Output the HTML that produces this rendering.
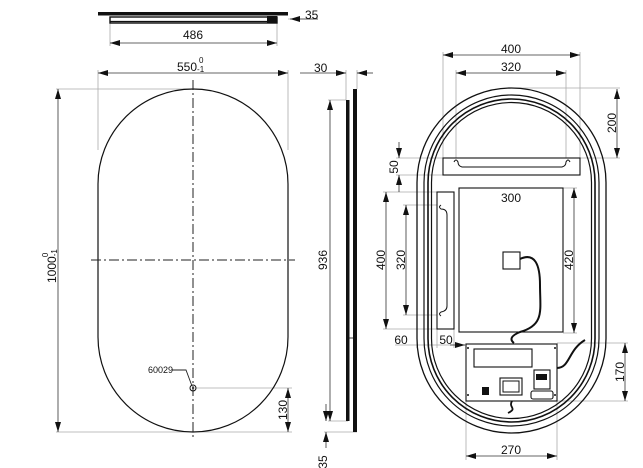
<!DOCTYPE html>
<html><head><meta charset="utf-8"><style>
html,body{margin:0;padding:0;background:#fff}
svg{display:block}
text{font-family:"Liberation Sans",sans-serif;fill:#111}
</style></head><body>
<svg width="643" height="468" viewBox="0 0 643 468" xmlns="http://www.w3.org/2000/svg">
<defs>
<marker id="a" viewBox="0 0 10 6" refX="10" refY="3" markerWidth="10" markerHeight="6" orient="auto-start-reverse" markerUnits="userSpaceOnUse"><path d="M0,0L10,3L0,6z" fill="#111"/></marker>
</defs>
<g stroke="#aaa" stroke-width="0.8" fill="none">
<line x1="110" y1="22" x2="110" y2="46"/><line x1="277" y1="22" x2="277" y2="46"/>
<line x1="288" y1="19" x2="318" y2="19"/>
<line x1="98" y1="70" x2="98" y2="150"/><line x1="288" y1="70" x2="288" y2="150"/>
<line x1="56" y1="89" x2="193" y2="89"/><line x1="56" y1="432" x2="193" y2="432"/>
<line x1="193" y1="388" x2="292" y2="388"/><line x1="193" y1="432" x2="292" y2="432"/>
<line x1="346" y1="70" x2="346" y2="100"/><line x1="357" y1="70" x2="357" y2="89"/>
<line x1="328" y1="100" x2="346" y2="100"/><line x1="328" y1="421" x2="348" y2="421"/><line x1="324" y1="432" x2="357" y2="432"/>
<line x1="443" y1="52" x2="443" y2="158"/><line x1="580" y1="52" x2="580" y2="158"/>
<line x1="456" y1="70" x2="456" y2="160"/><line x1="566" y1="70" x2="566" y2="160"/>
<line x1="510" y1="88" x2="620" y2="88"/><line x1="580" y1="158" x2="620" y2="158"/>
<line x1="396" y1="158" x2="443" y2="158"/><line x1="396" y1="175" x2="443" y2="175"/>
<line x1="383" y1="192" x2="437" y2="192"/><line x1="383" y1="329" x2="437" y2="329"/>
<line x1="403" y1="205" x2="442" y2="205"/><line x1="403" y1="315" x2="442" y2="315"/>
<line x1="563" y1="188" x2="577" y2="188"/><line x1="563" y1="333" x2="577" y2="333"/>
<line x1="557" y1="343" x2="628" y2="343"/><line x1="557" y1="401" x2="628" y2="401"/>
<line x1="466" y1="401" x2="466" y2="460"/><line x1="557" y1="401" x2="557" y2="460"/>
<line x1="395" y1="345" x2="466" y2="345"/>
<line x1="417" y1="335" x2="417" y2="348"/><line x1="437" y1="329" x2="437" y2="348"/><line x1="454" y1="329" x2="454" y2="348"/>
</g>
<g stroke="#333" stroke-width="0.8" fill="none">
<line x1="110" y1="43" x2="277" y2="43" marker-start="url(#a)" marker-end="url(#a)"/>
<line x1="318" y1="19" x2="290" y2="19" marker-end="url(#a)"/>
<line x1="98" y1="73" x2="288" y2="73" marker-start="url(#a)" marker-end="url(#a)"/>
<line x1="58" y1="89" x2="58" y2="432" marker-start="url(#a)" marker-end="url(#a)"/>
<line x1="288" y1="388" x2="288" y2="432" marker-start="url(#a)" marker-end="url(#a)"/>
<line x1="300" y1="73" x2="346" y2="73" marker-end="url(#a)"/><line x1="373" y1="73" x2="357" y2="73" marker-end="url(#a)"/>
<line x1="330" y1="100" x2="330" y2="421" marker-start="url(#a)" marker-end="url(#a)"/>
<line x1="326" y1="404" x2="326" y2="421" marker-end="url(#a)"/><line x1="326" y1="448" x2="326" y2="432" marker-end="url(#a)"/>
<line x1="443" y1="55" x2="580" y2="55" marker-start="url(#a)" marker-end="url(#a)"/>
<line x1="456" y1="73" x2="566" y2="73" marker-start="url(#a)" marker-end="url(#a)"/>
<line x1="617" y1="89" x2="617" y2="158" marker-start="url(#a)" marker-end="url(#a)"/>
<line x1="399" y1="142" x2="399" y2="158" marker-end="url(#a)"/><line x1="399" y1="192" x2="399" y2="175" marker-end="url(#a)"/>
<line x1="386" y1="192" x2="386" y2="329" marker-start="url(#a)" marker-end="url(#a)"/>
<line x1="406" y1="205" x2="406" y2="315" marker-start="url(#a)" marker-end="url(#a)"/>
<line x1="460" y1="203" x2="562" y2="203" marker-start="url(#a)" marker-end="url(#a)"/>
<line x1="574" y1="188" x2="574" y2="333" marker-start="url(#a)" marker-end="url(#a)"/>
<line x1="625" y1="343" x2="625" y2="401" marker-start="url(#a)" marker-end="url(#a)"/>
<line x1="466" y1="456" x2="557" y2="456" marker-start="url(#a)" marker-end="url(#a)"/>
<line x1="450" y1="345" x2="465" y2="345" marker-end="url(#a)"/>
</g>
<rect x="98" y="12" width="190" height="3.5" fill="#111"/>
<rect x="110" y="17" width="167" height="6" fill="#fff" stroke="#111" stroke-width="1.4"/>
<line x1="110" y1="21.5" x2="277" y2="21.5" stroke="#111" stroke-width="1.3"/>
<rect x="267" y="16" width="10" height="7" fill="#111"/>
<rect x="98" y="89" width="190" height="343" rx="95" ry="95" fill="none" stroke="#111" stroke-width="1.2"/>
<line x1="193" y1="80" x2="193" y2="440" stroke="#222" stroke-width="1" stroke-dasharray="10,3,2,3"/>
<line x1="91" y1="260" x2="295" y2="260" stroke="#222" stroke-width="1" stroke-dasharray="10,3,2,3"/>
<circle cx="193" cy="388" r="3" fill="none" stroke="#111" stroke-width="1"/>
<circle cx="193" cy="388" r="1" fill="#111"/>
<polyline points="172,370 186,370 192,386" fill="none" stroke="#222" stroke-width="0.9"/>
<text x="148" y="373" font-size="9" fill="#444">60029</text>
<rect x="346" y="100" width="3.5" height="321" fill="#111"/>
<rect x="353" y="89" width="4" height="343" fill="#111"/>
<line x1="349" y1="338" x2="353" y2="338" stroke="#111" stroke-width="0.8"/>
<g fill="none" stroke="#111">
<rect x="417" y="88" width="189" height="345" rx="94.5" ry="94.5" stroke-width="1.3"/>
<rect x="424" y="95" width="175" height="331" rx="87.5" ry="87.5" stroke-width="1.2"/>
<rect x="428" y="99" width="167" height="323" rx="83.5" ry="83.5" stroke-width="1.6"/>
<rect x="431.5" y="102.5" width="160" height="316" rx="80" ry="80" stroke-width="1.2"/>
<rect x="443" y="158" width="137" height="17" stroke-width="1.1" fill="#fff"/>
<path d="M454,162 q2,-4 4,0 q0,4 4,5 L562,167 q4,-1 4,-5 q2,-4 4,0" stroke-width="1"/>
<rect x="437" y="192" width="17" height="137" stroke-width="1.1" fill="#fff"/>
<path d="M441,205 q-3,2 0,4 q6,0 6,6 L447,306 q0,5 -6,6 q-3,2 0,4" stroke-width="1"/>
<rect x="459" y="188" width="104" height="144" stroke-width="1.1" fill="#fff"/>
<rect x="503" y="252" width="17" height="17" stroke-width="1.1"/>
<path d="M520,259 C535,252 540,265 540,285 C540,310 545,325 520,332 C510,336 510,340 514,343" stroke-width="2"/>
<rect x="466" y="344" width="91" height="57" stroke-width="1.1" fill="#fff"/>
<rect x="474" y="349" width="58" height="18" stroke-width="1.1"/>
<rect x="500" y="378" width="22" height="17" stroke-width="1.1"/>
<rect x="503" y="381" width="16" height="11" stroke-width="1"/>
<rect x="534" y="370" width="16" height="19" stroke-width="1.1"/>
<rect x="531" y="391" width="22" height="8" rx="2" stroke-width="1.1"/>
<path d="M557,368 C570,368 568,350 585,340" stroke-width="2"/>
<path d="M512,401 C508,408 518,408 508,413" stroke-width="1.8"/>
</g>
<rect x="482" y="387" width="7" height="8" fill="#111"/>
<rect x="536" y="374" width="11" height="6" fill="#111"/>
<g fill="#111"><circle cx="468" cy="348" r="1"/><circle cx="555" cy="348" r="1"/><circle cx="468" cy="395" r="1"/><circle cx="555" cy="395" r="1"/></g>
<g font-size="12">
<text x="193" y="39" text-anchor="middle">486</text>
<text x="305" y="19">35</text>
<text x="177" y="71">550<tspan font-size="8" dy="1">-1</tspan></text>
<text x="199" y="63" font-size="8">0</text>
<text transform="translate(56,283) rotate(-90)">1000<tspan font-size="8" dy="1">-1</tspan><tspan font-size="8" dx="-8" dy="-9">0</tspan></text>
<text transform="translate(287,410) rotate(-90)" text-anchor="middle">130</text>
<text x="314" y="72">30</text>
<text transform="translate(327,260) rotate(-90)" text-anchor="middle">936</text>
<text transform="translate(327,462) rotate(-90)" text-anchor="middle">35</text>
<text x="511" y="53" text-anchor="middle">400</text>
<text x="511" y="71" text-anchor="middle">320</text>
<text transform="translate(616,123) rotate(-90)" text-anchor="middle">200</text>
<text transform="translate(398,167) rotate(-90)" text-anchor="middle">50</text>
<text x="511" y="202" text-anchor="middle">300</text>
<text transform="translate(385,260) rotate(-90)" text-anchor="middle">400</text>
<text transform="translate(405,260) rotate(-90)" text-anchor="middle">320</text>
<text transform="translate(573,260) rotate(-90)" text-anchor="middle">420</text>
<text x="401" y="344" text-anchor="middle">60</text>
<text x="446" y="344" text-anchor="middle">50</text>
<text transform="translate(624,372) rotate(-90)" text-anchor="middle">170</text>
<text x="511" y="454" text-anchor="middle">270</text>
</g>
</svg>
</body></html>
